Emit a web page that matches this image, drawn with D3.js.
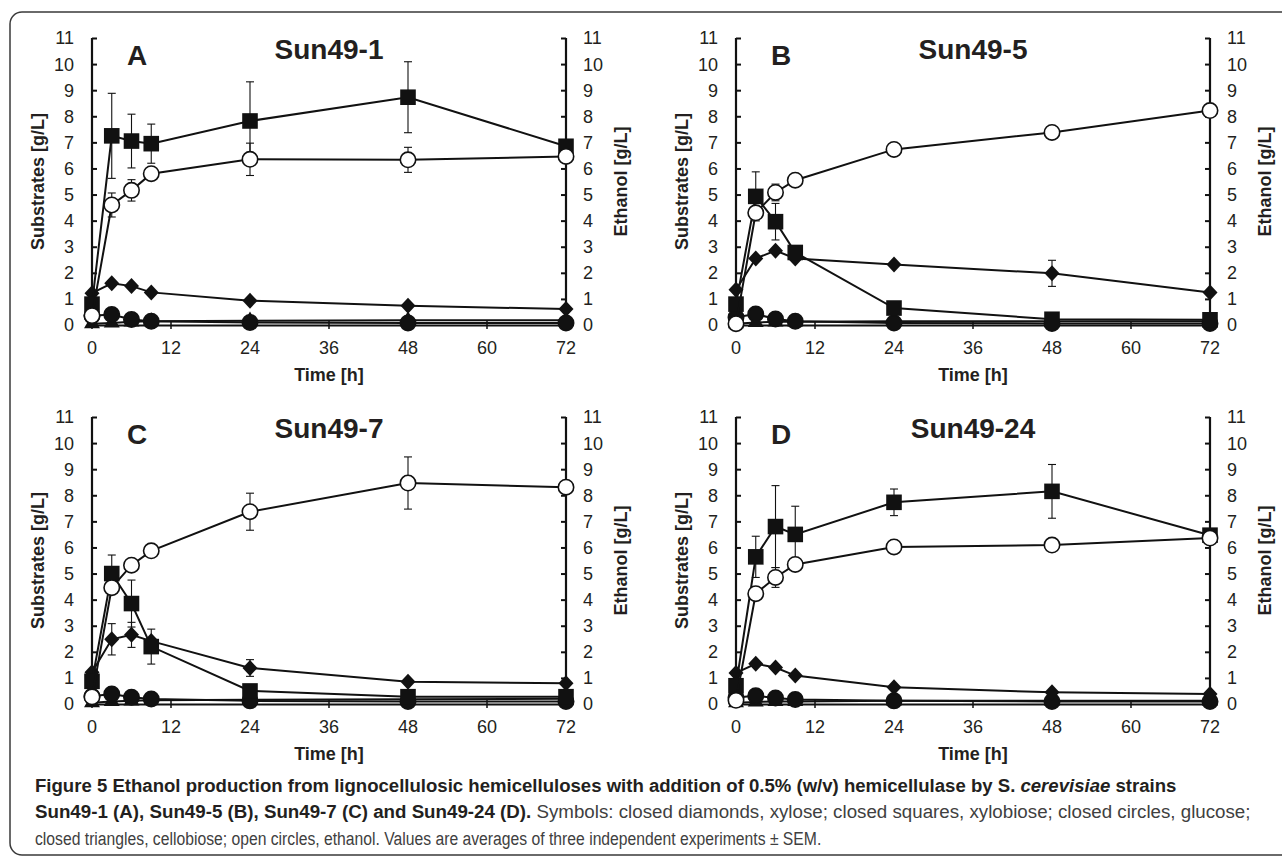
<!DOCTYPE html>
<html>
<head>
<meta charset="utf-8">
<script src="https://cdn.jsdelivr.net/npm/d3@7"></script>
<style>
  html, body { margin: 0; padding: 0; background: #fff; }
  svg { display: block; }
  text { fill: #231f20; }
</style>
</head>
<body>
<div id="chart"></div>
<script>
// sampling times (h)
const times = [0, 3, 6, 9, 24, 48, 72];
const xTicks = [0, 12, 24, 36, 48, 60, 72];
const yTicks = [0, 1, 2, 3, 4, 5, 6, 7, 8, 9, 10, 11];

// Panel A: Sun49-1
const xyloseA     = [1.22, 1.60, 1.49, 1.25, 0.93, 0.74, 0.61];
const xylobioseA  = [0.80, 7.25, 7.05, 6.95, 7.82, 8.73, 6.85];
const xylobioseAErr = [0, 1.63, 1.03, 0.75, 1.50, 1.36, 0];
const glucoseA    = [0.35, 0.40, 0.21, 0.14, 0.10, 0.08, 0.08];
const cellobioseA = [0.05, 0.08, 0.12, 0.14, 0.16, 0.18, 0.18];
const ethanolA    = [0.36, 4.60, 5.16, 5.80, 6.35, 6.33, 6.46];
const ethanolAErr = [0, 0.46, 0.41, 0.20, 0.62, 0.48, 0];

// Panel B: Sun49-5
const xyloseB     = [1.35, 2.55, 2.85, 2.55, 2.32, 1.98, 1.25];
const xyloseBErr  = [0, 0, 0, 0, 0, 0.50, 0];
const xylobioseB  = [0.80, 4.93, 3.96, 2.78, 0.65, 0.22, 0.20];
const xylobioseBErr = [0, 0.94, 0.70, 0, 0, 0, 0];
const glucoseB    = [0.30, 0.42, 0.23, 0.14, 0.08, 0.06, 0.06];
const cellobioseB = [0.05, 0.10, 0.12, 0.12, 0.14, 0.14, 0.14];
const ethanolB    = [0.05, 4.30, 5.08, 5.55, 6.73, 7.38, 8.22];
const ethanolBErr = [0, 0, 0.32, 0, 0, 0, 0];

// Panel C: Sun49-7
const xyloseC     = [1.22, 2.48, 2.65, 2.41, 1.38, 0.85, 0.80];
const xyloseCErr  = [0, 0.60, 0.48, 0, 0.32, 0, 0];
const xylobioseC  = [0.87, 5.00, 3.85, 2.20, 0.50, 0.28, 0.28];
const xylobioseCErr = [0, 0.71, 0.90, 0.67, 0, 0, 0];
const glucoseC    = [0.30, 0.38, 0.26, 0.19, 0.12, 0.10, 0.10];
const cellobioseC = [0.05, 0.10, 0.12, 0.14, 0.16, 0.18, 0.20];
const ethanolC    = [0.27, 4.46, 5.32, 5.87, 7.37, 8.47, 8.31];
const ethanolCErr = [0, 0, 0, 0, 0.71, 1.00, 0];

// Panel D: Sun49-24
const xyloseD     = [1.19, 1.54, 1.40, 1.09, 0.64, 0.45, 0.38];
const xylobioseD  = [0.70, 5.64, 6.80, 6.50, 7.73, 8.15, 6.47];
const xylobioseDErr = [0, 0.79, 1.57, 1.08, 0.51, 1.03, 0];
const glucoseD    = [0.25, 0.32, 0.23, 0.17, 0.12, 0.10, 0.10];
const cellobioseD = [0.05, 0.08, 0.10, 0.10, 0.12, 0.12, 0.12];
const ethanolD    = [0.14, 4.23, 4.85, 5.35, 6.02, 6.09, 6.36];
const ethanolDErr = [0, 0, 0.38, 0, 0, 0, 0];

const panels = [
  { letter: "A", title: "Sun49-1", col: 0, row: 0,
    xylose: xyloseA, xyloseErr: null, xylobiose: xylobioseA, xylobioseErr: xylobioseAErr,
    glucose: glucoseA, cellobiose: cellobioseA, ethanol: ethanolA, ethanolErr: ethanolAErr },
  { letter: "B", title: "Sun49-5", col: 1, row: 0,
    xylose: xyloseB, xyloseErr: xyloseBErr, xylobiose: xylobioseB, xylobioseErr: xylobioseBErr,
    glucose: glucoseB, cellobiose: cellobioseB, ethanol: ethanolB, ethanolErr: ethanolBErr },
  { letter: "C", title: "Sun49-7", col: 0, row: 1,
    xylose: xyloseC, xyloseErr: xyloseCErr, xylobiose: xylobioseC, xylobioseErr: xylobioseCErr,
    glucose: glucoseC, cellobiose: cellobioseC, ethanol: ethanolC, ethanolErr: ethanolCErr },
  { letter: "D", title: "Sun49-24", col: 1, row: 1,
    xylose: xyloseD, xyloseErr: null, xylobiose: xylobioseD, xylobioseErr: xylobioseDErr,
    glucose: glucoseD, cellobiose: cellobioseD, ethanol: ethanolD, ethanolErr: ethanolDErr }
];

const W = 1282, H = 857;
const colLeft = [92, 736];
const plotW = 474;
const rowTop = [38, 417];
const plotH = 287;

const svg = d3.select("#chart").append("svg")
  .attr("width", W).attr("height", H);

// figure frame (right side runs off the page)
svg.append("rect")
  .attr("x", 10).attr("y", 12)
  .attr("width", 1300).attr("height", 843)
  .attr("rx", 12).attr("ry", 12)
  .attr("fill", "none").attr("stroke", "#3a3a3a").attr("stroke-width", 1.5);

const axisFont = "'Liberation Sans', Arial, Helvetica, sans-serif";

const diamondPath = "M0,-8L7.5,0L0,8L-7.5,0Z";
const squarePath = "M-7.8,-7.8H7.8V7.8H-7.8Z";
const trianglePath = d3.symbol().type(d3.symbolTriangle).size(110)();

function drawPanel(p) {
  const x0 = colLeft[p.col], y0 = rowTop[p.row];
  const x = d3.scaleLinear().domain([0, 72]).range([x0, x0 + plotW]);
  const y = d3.scaleLinear().domain([0, 11]).range([y0 + plotH, y0]);
  const g = svg.append("g");

  // left axis, ticks inside
  g.append("g")
    .attr("transform", `translate(${x(0)},0)`)
    .call(d3.axisRight(y).tickValues(yTicks).tickSize(5).tickFormat(""))
    .call(a => a.select(".domain").remove())
    .call(a => a.selectAll("line").attr("stroke", "#111").attr("stroke-width", 2));
  g.append("line")
    .attr("x1", x(0)).attr("x2", x(0)).attr("y1", y(0)).attr("y2", y(11))
    .attr("stroke", "#111").attr("stroke-width", 2.2);
  g.append("g").selectAll("text").data(yTicks).join("text")
    .attr("x", x(0) - 18).attr("y", d => y(d)).attr("dy", "0.36em")
    .attr("text-anchor", "end")
    .style("font", `18px ${axisFont}`)
    .text(d => d);

  // right axis, ticks inside
  g.append("g")
    .attr("transform", `translate(${x(72)},0)`)
    .call(d3.axisLeft(y).tickValues(yTicks).tickSize(5).tickFormat(""))
    .call(a => a.select(".domain").remove())
    .call(a => a.selectAll("line").attr("stroke", "#111").attr("stroke-width", 2));
  g.append("line")
    .attr("x1", x(72)).attr("x2", x(72)).attr("y1", y(0)).attr("y2", y(11))
    .attr("stroke", "#111").attr("stroke-width", 2.2);
  g.append("g").selectAll("text").data(yTicks).join("text")
    .attr("x", x(72) + 17).attr("y", d => y(d)).attr("dy", "0.36em")
    .attr("text-anchor", "start")
    .style("font", `18px ${axisFont}`)
    .text(d => d);

  // bottom axis at y = 0
  g.append("g")
    .attr("transform", `translate(0,${y(0)})`)
    .call(d3.axisBottom(x).tickValues(xTicks).tickSize(0).tickFormat(""))
    .call(a => a.select(".domain").attr("stroke", "#111").attr("stroke-width", 2));
  g.append("g").selectAll("line").data(xTicks).join("line")
    .attr("x1", d => x(d)).attr("x2", d => x(d))
    .attr("y1", y(0) - 4).attr("y2", y(0) + 4)
    .attr("stroke", "#111").attr("stroke-width", 1.5);
  g.append("g").selectAll("text").data(xTicks).join("text")
    .attr("x", d => x(d)).attr("y", y(0) + 29)
    .attr("text-anchor", "middle")
    .style("font", `18px ${axisFont}`)
    .text(d => d);

  // axis titles
  g.append("text")
    .attr("transform", `translate(${x(0) - 54},${y(5.5)}) rotate(-90)`)
    .attr("dy", "0.35em").attr("text-anchor", "middle")
    .style("font", `bold 18px ${axisFont}`)
    .text("Substrates [g/L]");
  g.append("text")
    .attr("transform", `translate(${x(72) + 55},${y(5.5)}) rotate(-90)`)
    .attr("dy", "0.35em").attr("text-anchor", "middle")
    .style("font", `bold 18px ${axisFont}`)
    .text("Ethanol [g/L]");
  g.append("text")
    .attr("x", x(36)).attr("y", y(0) + 56)
    .attr("text-anchor", "middle")
    .style("font", `bold 18px ${axisFont}`)
    .text("Time [h]");

  // panel letter and strain name
  g.append("text")
    .attr("x", x0 + 45).attr("y", y0 + 27)
    .attr("text-anchor", "middle")
    .style("font", `bold 28px ${axisFont}`)
    .text(p.letter);
  g.append("text")
    .attr("x", x(36)).attr("y", y0 + 21)
    .attr("text-anchor", "middle")
    .style("font", `bold 28px ${axisFont}`)
    .text(p.title);

  const line = d3.line().x((d, i) => x(times[i])).y(d => y(d));

  function series(values, errs, shape) {
    const s = g.append("g");
    s.append("path").datum(values)
      .attr("d", line)
      .attr("fill", "none").attr("stroke", "#111").attr("stroke-width", 2);
    if (errs) {
      const pts = values.map((v, i) => ({ t: times[i], v, e: errs[i] })).filter(d => d.e > 0);
      const eb = s.append("g").attr("stroke", "#111").attr("stroke-width", 1.1);
      eb.selectAll("line.v").data(pts).join("line").attr("class", "v")
        .attr("x1", d => x(d.t)).attr("x2", d => x(d.t))
        .attr("y1", d => y(d.v - d.e)).attr("y2", d => y(d.v + d.e));
      eb.selectAll("line.t").data(pts).join("line").attr("class", "t")
        .attr("x1", d => x(d.t) - 4).attr("x2", d => x(d.t) + 4)
        .attr("y1", d => y(d.v + d.e)).attr("y2", d => y(d.v + d.e));
      eb.selectAll("line.b").data(pts).join("line").attr("class", "b")
        .attr("x1", d => x(d.t) - 4).attr("x2", d => x(d.t) + 4)
        .attr("y1", d => y(d.v - d.e)).attr("y2", d => y(d.v - d.e));
    }
    const pts = values.map((v, i) => ({ t: times[i], v }));
    if (shape === "open" || shape === "circle") {
      s.selectAll("circle").data(pts).join("circle")
        .attr("cx", d => x(d.t)).attr("cy", d => y(d.v))
        .attr("r", 7.7)
        .attr("fill", shape === "open" ? "#fff" : "#111")
        .attr("stroke", "#111").attr("stroke-width", 1.6);
    } else {
      const path = shape === "square" ? squarePath : shape === "diamond" ? diamondPath : trianglePath;
      s.selectAll("path.m").data(pts).join("path").attr("class", "m")
        .attr("transform", d => `translate(${x(d.t)},${y(d.v)})`)
        .attr("d", path)
        .attr("fill", "#111");
    }
  }

  series(p.cellobiose, null, "triangle");
  series(p.glucose, null, "circle");
  series(p.xylose, p.xyloseErr, "diamond");
  series(p.xylobiose, p.xylobioseErr, "square");
  series(p.ethanol, p.ethanolErr, "open");
}

panels.forEach(drawPanel);

// caption: each line set at natural width then squeezed horizontally to the reference width
const capFont = "'Liberation Sans', Arial, sans-serif";
const cap = svg.append("g").style("font-family", capFont).style("font-size", "19px");

function capLine(y, width, parts) {
  const t = cap.append("text").attr("x", 0).attr("y", 0);
  parts.forEach(pt => {
    t.append("tspan")
      .style("font-weight", pt.bold ? "bold" : "normal")
      .style("font-style", pt.italic ? "italic" : "normal")
      .style("fill", pt.bold ? "#231f20" : "#404040")
      .text(pt.text);
  });
  const natural = t.node().getComputedTextLength();
  t.attr("transform", `translate(35,${y}) scale(${width / natural},1)`);
}

capLine(792, 1142, [
  { text: "Figure 5 Ethanol production from lignocellulosic hemicelluloses with addition of 0.5% (w/v) hemicellulase by S. ", bold: true },
  { text: "cerevisiae", bold: true, italic: true },
  { text: " strains", bold: true }
]);
capLine(818, 1216, [
  { text: "Sun49-1 (A), Sun49-5 (B), Sun49-7 (C) and Sun49-24 (D).", bold: true },
  { text: " Symbols: closed diamonds, xylose; closed squares, xylobiose; closed circles, glucose;" }
]);
capLine(845, 787, [
  { text: "closed triangles, cellobiose; open circles, ethanol. Values are averages of three independent experiments \u00b1 SEM." }
]);
</script>
</body>
</html>
